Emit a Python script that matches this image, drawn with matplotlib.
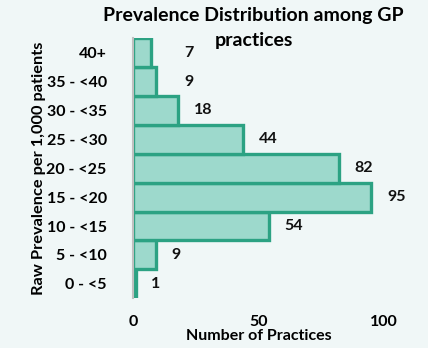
import matplotlib.pyplot as plt

plt.rcParams['font.family'] = ['Lato', 'DejaVu Sans']
plt.rcParams['font.weight'] = 'bold'

# Données
categories = ['0 - <5', '5 - <10', '10 - <15', '15 - <20', '20 - <25',
              '25 - <30', '30 - <35', '35 - <40', '40+']
counts = [1, 9, 54, 95, 82, 44, 18, 9, 7]
xticks = [0, 50, 100]
title_lines = ['Prevalence Distribution among GP', 'practices']

bg = '#f0f7f7'
face = '#9dd9cc'
edge = '#2ca283'

fig = plt.figure(figsize=(4.28, 3.48), dpi=100, facecolor=bg)
ax = fig.add_axes([0.311, 0.143, 0.586, 0.747], facecolor=bg)

ax.barh(range(len(categories)), counts, height=1.0, color=face,
        edgecolor=edge, linewidth=2.4)

# étiquettes des valeurs (les deux du haut décalées sous le titre)
for i, v in enumerate(counts):
    x = v + 6.3
    if i >= len(categories) - 2:
        x = max(x, 20.3)
    ax.text(x, i, str(v), va='center', ha='left', fontsize=11.5,
            fontweight='bold', color='#111111')

ax.set_xlim(0, 100)
ax.set_ylim(-0.5, len(categories) - 0.5)
ax.set_yticks(range(len(categories)))
ax.set_yticklabels(categories, fontsize=11.5, fontweight='bold')
ax.set_xticks(xticks)
ax.set_xticklabels([str(t) for t in xticks], fontsize=11.5, fontweight='bold')
ax.tick_params(length=0, pad=19, axis='y')
ax.tick_params(length=0, pad=12, axis='x')

for s in ['top', 'right', 'bottom']:
    ax.spines[s].set_visible(False)
ax.spines['left'].set_color('#c0c0c0')
ax.spines['left'].set_linewidth(1.5)

ax.set_xlabel('Number of Practices', fontsize=11.5, fontweight='bold', labelpad=0)
ax.set_ylabel('Raw Prevalence per 1,000 patients', fontsize=11.8, fontweight='bold',
              labelpad=0)

# titre sur deux lignes
fig.text(0.593, 0.98, title_lines[0], ha='center', va='top',
         fontsize=14, fontweight='bold')
fig.text(0.593, 0.908, title_lines[1], ha='center', va='top',
         fontsize=14, fontweight='bold')

plt.savefig('out.png', dpi=100, facecolor=bg)
